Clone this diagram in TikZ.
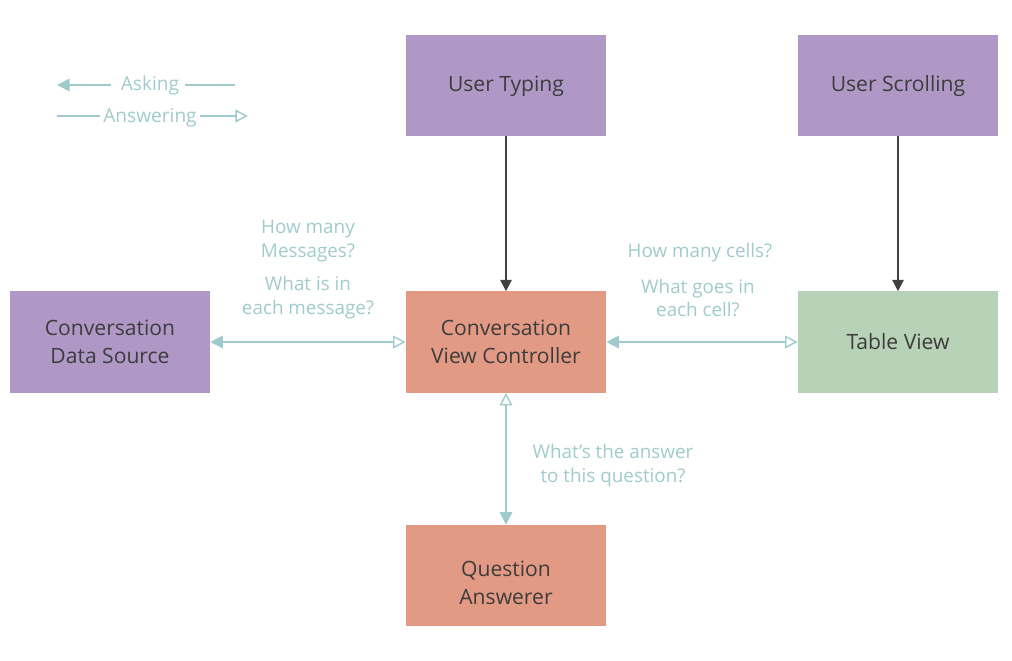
\documentclass[tikz,border=0pt]{standalone}
\usepackage{fontspec}
\setmainfont{Open Sans}
\usetikzlibrary{arrows.meta,positioning}
\definecolor{boxpurple}{RGB}{176,152,198}
\definecolor{boxsalmon}{RGB}{227,154,132}
\definecolor{boxgreen}{RGB}{183,210,183}
\definecolor{askteal}{RGB}{160,203,205}
\definecolor{boxtext}{RGB}{60,60,60}

\begin{document}
\begin{tikzpicture}[
			x=0.025cm, y=-0.025cm,
			block/.style={minimum width=5cm, minimum height=2.525cm, inner sep=0pt, align=center,
				text=boxtext, font=\fontsize{15}{20}\selectfont},
			question/.style={align=center, text=askteal, inner sep=1pt, font=\fontsize{13.4}{17}\selectfont},
			legendtext/.style={text=askteal, inner sep=0pt, font=\fontsize{13.6}{17}\selectfont},
			askline/.style={draw=askteal, line width=1pt},
			qa/.style={askline, {Triangle[length=9pt,width=9pt]}-{Triangle[open,length=9pt,width=9pt]}},
			push/.style={draw=black!75, line width=1pt, -{Triangle[length=8pt,width=8pt]}}
			]
			
			\useasboundingbox (0,0) rectangle (1012,660);
			
			% boxes
			\node[block, fill=boxpurple] (typing) at (506,85.5) {User Typing\strut};
			\node[block, fill=boxpurple] (scrolling) at (898,85.5) {User Scrolling\strut};
			\node[block, fill=boxpurple] (source) at (110,342) {Conversation\\Data Source};
			\node[block, fill=boxsalmon] (cvc) at (506,342) {Conversation\\View Controller};
			\node[block, fill=boxgreen] (table) at (898,342) {Table View};
			\node[block, fill=boxsalmon] (answerer) at (506,575.5) {\rule{0pt}{22pt}Question\\Answerer};
			
			% events
			\draw[push] (typing) -- (cvc);
			\draw[push] (scrolling) -- (table);
			
			% questions and answers
			\draw[qa] (source) -- (cvc);
			\draw[qa] (cvc) -- (table);
			\draw[qa] (answerer) -- (cvc);
			
			\node[question] (msgcount) at (308,241) {How many\\Messages?};
			\node[question] (msgcontent) at (308,298) {What is in\\each message?};
			\node[question] (cellcount) at (700,253) {How many cells?};
			\node[question] (cellcontent) at (698,298) {What goes in\\each cell?};
			\node[question] (answer) at (613,466) {What’s the answer\\to this question?};
			
			% legend
			\node[legendtext] (asking) at (150,86) {Asking};
			\node[legendtext] (answering) at (150,118) {Answering};
			\coordinate (askL) at (57,85);
			\coordinate (askR) at (235,85);
			\coordinate (ansL) at (57,116);
			\coordinate (ansR) at (248,116);
			\draw[askline, {Triangle[length=9pt,width=9pt]}-] (askL) -- ([xshift=-7pt]asking.west |- askL);
			\draw[askline] ([xshift=4pt]asking.east |- askR) -- (askR);
			\draw[askline] (ansL) -- ([xshift=-2pt]answering.west |- ansL);
			\draw[askline, -{Triangle[open,length=9pt,width=9pt]}] ([xshift=2pt]answering.east |- ansR) -- (ansR);
		\end{tikzpicture}
\end{document}
